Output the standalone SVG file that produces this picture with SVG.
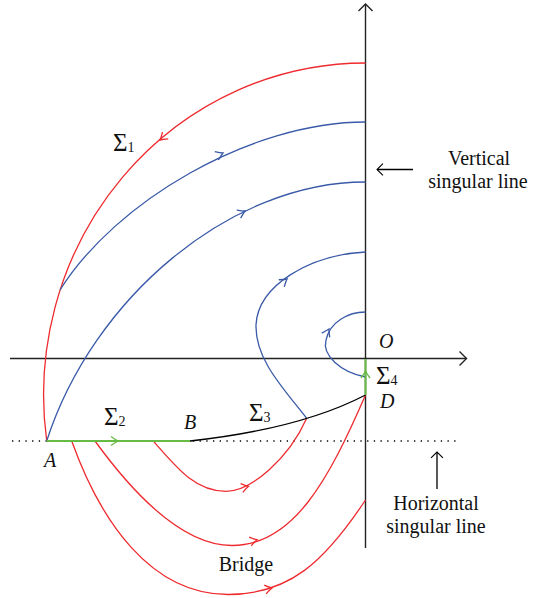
<svg xmlns="http://www.w3.org/2000/svg" xmlns:xlink="http://www.w3.org/1999/xlink" width="534" height="598" viewBox="0 0 534 598">
<style>
.ax{stroke:#222;stroke-width:1.4;fill:none}
.r{stroke:#ee2a2e;stroke-width:1.3;fill:none}
.b{stroke:#3a5aa8;stroke-width:1.3;fill:none}
.g{stroke:#66bb44;stroke-width:2;fill:none}
.k{stroke:#000;stroke-width:1.3;fill:none}
.dot{stroke:#000;stroke-width:1.3;fill:none;stroke-dasharray:1.3 5.4}
text{font-family:"Liberation Serif","Times New Roman",serif;font-size:20px;fill:#111}
.it{font-style:italic}
.sig{font-size:25px}
.sub{font-size:14px}
</style>
<defs>
<path id="ch" d="M-7,-4.5 Q-2.5,-1.2 0,0 Q-2.5,1.2 -7,4.5" fill="none"/>
<path id="axh" d="M-7,-7 L0,0 L-7,7" fill="none"/>
</defs>
<g id="axes">
<path class="ax" d="M365.5,548 V4"/>
<use xlink:href="#axh" class="ax" transform="translate(365.5,4) rotate(-90)"/>
<path class="ax" d="M10,358.5 H466.5"/>
<use xlink:href="#axh" class="ax" transform="translate(466.5,358.5)"/>
<path class="dot" d="M12,441 H456"/>
</g>
<g id="connectors">
<path class="r" d="M46.7,441 A322,332 0 0 1 365.5,63"/>
<use xlink:href="#ch" class="r" transform="translate(160,140) rotate(140)"/>
<path class="b" d="M60,290 C115,202 250,122 365.5,122"/>
<use xlink:href="#ch" class="b" transform="translate(223,153) rotate(-24)"/>
<path class="b" d="M46.7,441 C93,298 230,182 365.5,182"/>
<use xlink:href="#ch" class="b" transform="translate(245,211) rotate(-26)"/>
<path class="b" d="M306.7,418.3 C285,390 255,360 256,325 C258,285 310,255 365.5,252"/>
<use xlink:href="#ch" class="b" transform="translate(287,279) rotate(-38)"/>
<path class="b" d="M365.5,377 C340,372 322,355 326,340 C330,322 348,312 365.5,312"/>
<use xlink:href="#ch" class="b" transform="translate(329,329) rotate(-62)"/>
<path class="r" d="M153.3,441 C178.3,469.8 196,491.3 226,491.3 C251,491.3 288.7,458.8 306.7,418.3"/>
<use xlink:href="#ch" class="r" transform="translate(248.5,486.3) rotate(-14)"/>
<path class="r" d="M95,441 C140,503 187,545.5 232,545.5 C293.5,545.5 328.7,479.7 365.5,395"/>
<use xlink:href="#ch" class="r" transform="translate(257,539.7) rotate(-14)"/>
<path class="r" d="M71.7,441 C100,520 150,594.5 228,594.5 C290,594.5 325,561 365.5,500"/>
<use xlink:href="#ch" class="r" transform="translate(272,588) rotate(-12)"/>
<path class="k" d="M190,441 Q300,429 365.5,395"/>
<path class="g" d="M46.7,441 H190"/>
<use xlink:href="#ch" class="g" style="stroke-width:1.3" transform="translate(118,441)"/>
<path class="g" d="M365.5,395 V359"/>
<use xlink:href="#ch" class="g" style="stroke-width:1.3" transform="translate(365.5,371) rotate(-90)"/>
<path class="k" d="M377,169.5 H413"/>
<use xlink:href="#axh" class="k" transform="translate(377,169.5) rotate(180) scale(0.85)"/>
<path class="k" d="M437,452 V489"/>
<use xlink:href="#axh" class="k" transform="translate(437,452) rotate(-90) scale(0.85)"/>
</g>
<g id="labels">
<text x="113" y="151"><tspan class="sig">Σ</tspan><tspan class="sub" dy="1">1</tspan></text>
<text x="104" y="425"><tspan class="sig">Σ</tspan><tspan class="sub" dy="1">2</tspan></text>
<text x="249" y="421"><tspan class="sig">Σ</tspan><tspan class="sub" dy="1">3</tspan></text>
<text x="376" y="384"><tspan class="sig">Σ</tspan><tspan class="sub" dy="1">4</tspan></text>
<text class="it" x="44" y="467">A</text>
<text class="it" x="184" y="429">B</text>
<text class="it" x="379" y="348">O</text>
<text class="it" x="380" y="408">D</text>
<text x="479" y="165" text-anchor="middle">Vertical</text>
<text x="478" y="188" text-anchor="middle">singular line</text>
<text x="436" y="510" text-anchor="middle">Horizontal</text>
<text x="436" y="533" text-anchor="middle">singular line</text>
<text x="246" y="571" text-anchor="middle">Bridge</text>
</g>
</svg>
